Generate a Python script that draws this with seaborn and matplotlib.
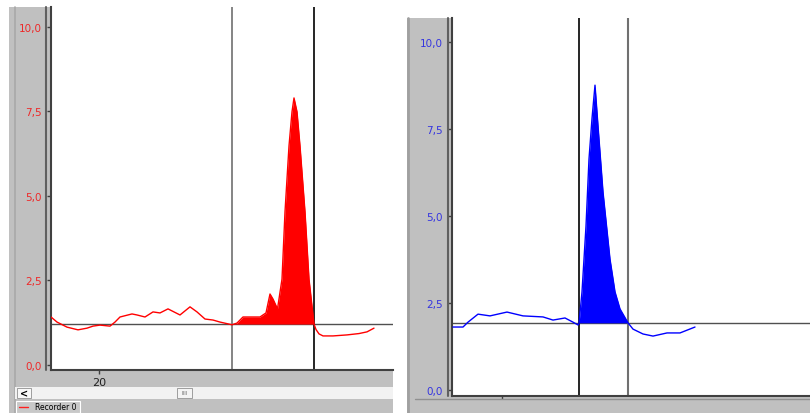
import matplotlib
matplotlib.use("Agg")
import matplotlib.pyplot as plt
from matplotlib.patches import Rectangle
from matplotlib.lines import Line2D
import numpy as np
import pandas as pd
import seaborn as sns

# ---------------- data ----------------
# Left chromatogram (red)
red_time = [18.08, 18.32, 18.72, 19.16, 19.52, 19.76, 20.04, 20.44, 20.64, 20.84,
            21.32, 21.52, 21.84, 22.16, 22.44, 22.76, 23.24, 23.64, 23.92, 24.24,
            24.56, 24.84, 25.32, 25.52, 25.76, 26.44, 26.68, 26.84, 26.96, 27.14,
            27.32, 27.44, 27.60, 27.72, 27.80, 27.92, 28.04, 28.24, 28.40, 28.60,
            28.68, 28.80, 28.96, 29.36, 29.92, 30.40, 30.72, 31.00]
red_signal = [1.42, 1.27, 1.12, 1.04, 1.09, 1.15, 1.18, 1.15, 1.27, 1.42,
              1.51, 1.48, 1.42, 1.57, 1.54, 1.66, 1.48, 1.72, 1.57, 1.36,
              1.33, 1.27, 1.19, 1.24, 1.42, 1.42, 1.54, 2.10, 1.95, 1.66,
              2.54, 4.53, 6.48, 7.49, 7.90, 7.49, 6.48, 4.53, 2.54, 1.21,
              1.05, 0.92, 0.86, 0.86, 0.89, 0.93, 0.98, 1.09]
red_baseline = 1.21
red_window = (25.32, 28.60)

# Right chromatogram (blue)
blue_time = [8.04, 8.44, 8.64, 9.04, 9.52, 10.20, 10.84, 11.64, 12.04, 12.52,
             12.84, 13.04, 13.08, 13.20, 13.36, 13.48, 13.60, 13.72, 13.84, 14.04,
             14.32, 14.52, 14.72, 15.04, 15.24, 15.64, 16.04, 16.60, 17.12, 17.72]
blue_signal = [1.81, 1.81, 1.95, 2.18, 2.13, 2.24, 2.13, 2.10, 2.01, 2.07,
               1.95, 1.87, 1.90, 2.82, 4.71, 6.64, 7.80, 8.76, 7.59, 5.69,
               3.76, 2.82, 2.33, 1.93, 1.75, 1.61, 1.55, 1.64, 1.64, 1.81]
blue_baseline = 1.93
blue_window = (13.06, 15.04)

y_ticks = [0.0, 2.5, 5.0, 7.5, 10.0]
y_tick_labels = ["0,0", "2,5", "5,0", "7,5", "10,0"]
red_x_ticks = [20]
red_x_tick_labels = ["20"]
blue_x_ticks = [10]
legend_label = "Recorder 0"

# ---------------- figure ----------------
W, H = 810, 414
sns.set_style("white")
plt.rcParams["font.family"] = ["DejaVu Sans"]
fig = plt.figure(figsize=(W / 100, H / 100), dpi=100)
fig.patch.set_facecolor("white")

GRAY = "#c0c0c0"


def rect(x, y, w, h, fc, ec="none", lw=0, z=0):
    fig.add_artist(Rectangle((x / W, 1 - (y + h) / H), w / W, h / H,
                             transform=fig.transFigure, facecolor=fc,
                             edgecolor=ec, linewidth=lw, zorder=z))


def vline(x, y0, y1, color, lw=1, z=1):
    fig.add_artist(Line2D([x / W, x / W], [1 - y0 / H, 1 - y1 / H],
                          transform=fig.transFigure, color=color, lw=lw, zorder=z))


def hline(y, x0, x1, color, lw=1, z=1):
    fig.add_artist(Line2D([x0 / W, x1 / W], [1 - y / H, 1 - y / H],
                          transform=fig.transFigure, color=color, lw=lw, zorder=z))


# Left panel frame
rect(9, 8, 384, 406, GRAY)
vline(15, 8, 414, "#a8a8a8", 1.2)
vline(46, 8, 371, "#606060", 1.5)
rect(15, 388, 378, 12, "#f2f2f2", z=1)
rect(17, 389, 14, 10, "#f8f8f8", ec="#909090", lw=0.6, z=2)
fig.text(24 / W, 1 - 394 / H, "<", ha="center", va="center", fontsize=7,
         fontweight="bold", color="black", zorder=3)
rect(177, 389, 15, 10, "#f4f4f4", ec="#909090", lw=0.6, z=2)
fig.text(184.5 / W, 1 - 394 / H, "IIII", ha="center", va="center", fontsize=4,
         color="#707070", zorder=3)
rect(16, 402, 64, 12, "#c8c8c8", ec="#ffffff", lw=0.8, z=2)
fig.add_artist(Line2D([19 / W, 28 / W], [1 - 408 / H, 1 - 408 / H],
                      transform=fig.transFigure, color="#ff2020", lw=1, zorder=3))
fig.text(35 / W, 1 - 408 / H, legend_label, ha="left", va="center", fontsize=5.5,
         color="black", zorder=3)

# Right panel frame
rect(407, 19, 403, 395, GRAY)
vline(408, 19, 414, "#a0a0a0", 2.0)
vline(448, 19, 397, "#606060", 1.5)
hline(400, 415, 810, "#909090", 1.0)

# ---------------- left axes ----------------
ax1 = fig.add_axes([51 / W, (H - 371) / H, 342 / W, 363 / H])
ax1.set_facecolor("white")
red_df = pd.DataFrame({"time": red_time, "signal": red_signal})
sns.lineplot(data=red_df, x="time", y="signal", ax=ax1, color="#ff0000",
             linewidth=1.0, estimator=None, sort=False, zorder=4)
t1 = np.array(red_time)
ax1.fill_between(t1, red_signal, red_baseline,
                 where=(t1 >= red_window[0]) & (t1 <= red_window[1]),
                 color="#ff0000", linewidth=0, zorder=3)
ax1.axhline(red_baseline, color="#505050", lw=1.0, zorder=2)
ax1.axvline(red_window[0], color="#707070", lw=1.2, zorder=2)
ax1.axvline(red_window[1], color="#000000", lw=1.2, zorder=2)
ax1.set_xlim(18.08, 31.76)
ax1.set_ylim(-0.148, 10.59)
ax1.set_yticks(y_ticks)
ax1.set_yticklabels(y_tick_labels)
ax1.set_xticks(red_x_ticks)
ax1.set_xticklabels(red_x_tick_labels)
ax1.tick_params(axis="y", colors="#404040", labelcolor="#ee2828", labelsize=7.5,
                length=3, width=1, pad=3.5, left=True)
ax1.tick_params(axis="x", colors="#404040", labelcolor="#202020", labelsize=8,
                length=3, width=1, pad=2, bottom=True)
ax1.set_xlabel("")
ax1.set_ylabel("")
for s in ["top", "right"]:
    ax1.spines[s].set_visible(False)
ax1.spines["left"].set_color("#404040")
ax1.spines["left"].set_linewidth(1.5)
ax1.spines["bottom"].set_color("#404040")
ax1.spines["bottom"].set_linewidth(1.5)

# ---------------- right axes ----------------
ax2 = fig.add_axes([452 / W, (H - 397) / H, 358 / W, 378 / H])
ax2.set_facecolor("white")
blue_df = pd.DataFrame({"time": blue_time, "signal": blue_signal})
sns.lineplot(data=blue_df, x="time", y="signal", ax=ax2, color="#0000ff",
             linewidth=1.0, estimator=None, sort=False, zorder=4)
t2 = np.array(blue_time)
ax2.fill_between(t2, blue_signal, blue_baseline,
                 where=(t2 >= blue_window[0]) & (t2 <= blue_window[1]),
                 color="#0000ff", linewidth=0, zorder=3)
ax2.axhline(blue_baseline, color="#505050", lw=1.0, zorder=2)
ax2.axvline(blue_window[0], color="#000000", lw=1.2, zorder=2)
ax2.axvline(blue_window[1], color="#707070", lw=1.5, zorder=2)
ax2.set_xlim(8.0, 22.32)
ax2.set_ylim(-0.172, 10.69)
ax2.set_yticks(y_ticks)
ax2.set_yticklabels(y_tick_labels)
ax2.set_xticks(blue_x_ticks)
ax2.set_xticklabels([""])
ax2.tick_params(axis="y", colors="#404040", labelcolor="#3535e0", labelsize=7.5,
                length=3, width=1, pad=3.5, left=True)
ax2.tick_params(axis="x", colors="#404040", length=2, width=1, bottom=True)
ax2.set_xlabel("")
ax2.set_ylabel("")
for s in ["top", "right"]:
    ax2.spines[s].set_visible(False)
ax2.spines["left"].set_color("#404040")
ax2.spines["left"].set_linewidth(1.5)
ax2.spines["bottom"].set_color("#404040")
ax2.spines["bottom"].set_linewidth(1.5)

fig.savefig("out.png", dpi=100, facecolor=fig.get_facecolor())
